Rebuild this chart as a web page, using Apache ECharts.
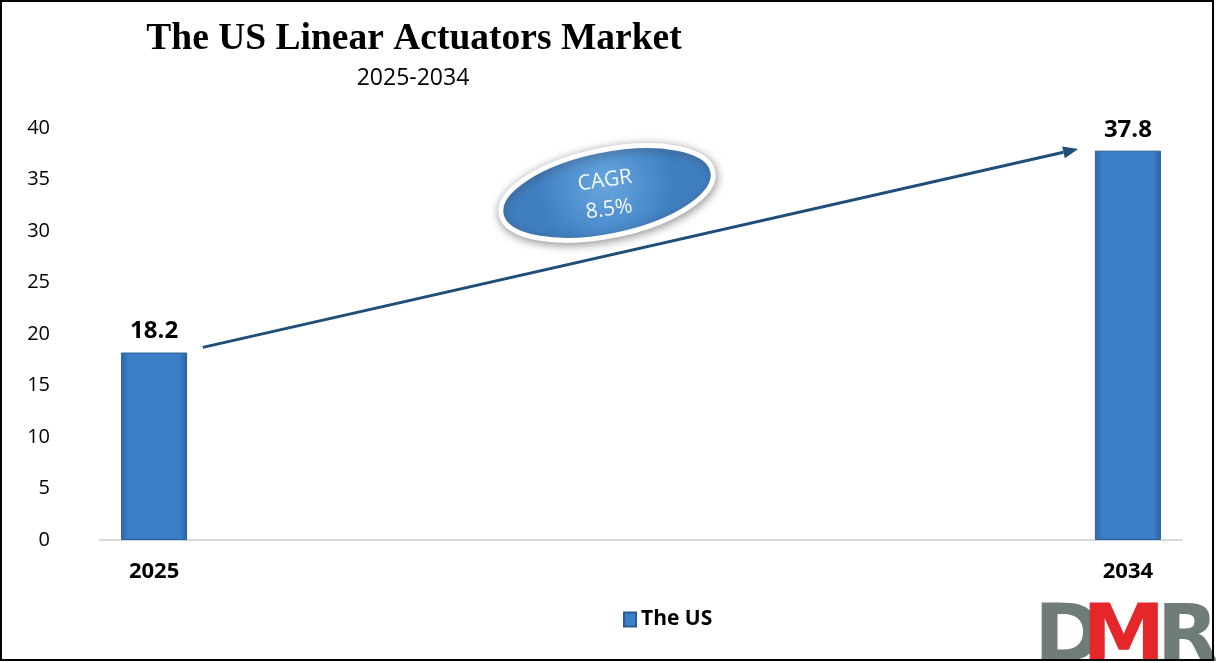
<!DOCTYPE html>
<html>
<head>
<meta charset="utf-8">
<script src="https://cdn.jsdelivr.net/npm/echarts@6/dist/echarts.min.js"></script>
<style>html,body{margin:0;padding:0;background:#fff}#c{width:1216px;height:663px}</style>
</head>
<body>
<div id="c"></div>
<script>
const years = ['2025','2026','2027','2028','2029','2030','2031','2032','2033','2034'];
const usValues = [18.2, null, null, null, null, null, null, null, null, 37.8];
const yTicks = [0, 5, 10, 15, 20, 25, 30, 35, 40];
const shownYears = ['2025', '2034'];
const cagrText = ['CAGR', '8.5%'];
const arrowFrom = { year: '2025', value: 18.7, shift: 0.45 };
const arrowTo = { year: '2034', value: 37.96, shift: -0.46 };

const chart = echarts.init(document.getElementById('c'), null, { renderer: 'canvas' });
const barGrad = new echarts.graphic.LinearGradient(0, 0, 1, 0, [
  { offset: 0, color: '#2d68ad' },
  { offset: 0.12, color: '#3b80c7' },
  { offset: 0.88, color: '#3b80c7' },
  { offset: 1, color: '#2a62a3' }
]);
const option = {
  backgroundColor: '#fff',
  animation: false,
  title: [
    { text: 'The US Linear Actuators Market', left: 409, top: 15, textAlign: 'center',
      textStyle: { fontFamily: 'Liberation Serif', fontWeight: 'bold', fontSize: 37.5, color: '#000' } },
    { text: '2025-2034', left: 408, top: 62, textAlign: 'center',
      textStyle: { fontFamily: 'Open Sans', fontWeight: 'normal', fontSize: 23, color: '#000' } }
  ],
  legend: {
    left: 618, top: 604, itemWidth: 12, itemHeight: 14, itemGap: 6,
    icon: 'rect',
    textStyle: { fontFamily: 'Open Sans', fontWeight: 'bold', fontSize: 21, color: '#000' },
    data: ['The US']
  },
  grid: { left: 100, right: 34, top: 128, bottom: 123, containLabel: false },
  xAxis: {
    type: 'category', data: years, boundaryGap: true,
    axisLine: { lineStyle: { color: '#d9d9d9', width: 2 } },
    axisTick: { show: false },
    axisLabel: {
      interval: 0, margin: 21,
      formatter: v => shownYears.includes(v) ? v : '',
      fontFamily: 'Open Sans', fontWeight: 'bold', fontSize: 22, color: '#000'
    }
  },
  yAxis: {
    type: 'value', min: yTicks[0], max: yTicks[yTicks.length - 1], interval: 5,
    splitLine: { show: false }, axisLine: { show: false }, axisTick: { show: false },
    axisLabel: { margin: 50, fontFamily: 'Open Sans', fontSize: 20, color: '#000' }
  },
  series: [{
    name: 'The US', type: 'bar', data: usValues, barWidth: 66,
    itemStyle: { color: barGrad, borderColor: '#295d96', borderWidth: 1 },
    label: { show: true, position: 'top', distance: 9,
      fontFamily: 'Open Sans', fontWeight: 'bold', fontSize: 24, color: '#000' }
  }]
};
chart.setOption(option);

// arrow computed through the axes
const a0 = chart.convertToPixel({ seriesIndex: 0 }, [arrowFrom.year, arrowFrom.value]);
const a1 = chart.convertToPixel({ seriesIndex: 0 }, [arrowTo.year, arrowTo.value]);
const bandW = (a1[0] - a0[0]) / (years.length - 1);
const x0 = a0[0] + arrowFrom.shift * bandW, y0 = a0[1];
const x1 = a1[0] + arrowTo.shift * bandW, y1 = a1[1];
const ang = Math.atan2(y1 - y0, x1 - x0);
const hl = 15, hw = 6;
const hx = x1 - hl * Math.cos(ang), hy = y1 - hl * Math.sin(ang);

chart.setOption({
  graphic: [
    { type: 'rect', shape: { x: 1, y: 1, width: 1212, height: 659 },
      style: { fill: 'none', stroke: '#000', lineWidth: 2 }, z: 100, silent: true },
    { type: 'line', shape: { x1: x0, y1: y0, x2: hx, y2: hy },
      style: { stroke: '#1f4e79', lineWidth: 3 }, z: 50 },
    { type: 'polygon', shape: { points: [
        [x1, y1],
        [hx + hw * Math.sin(ang), hy - hw * Math.cos(ang)],
        [hx - hw * Math.sin(ang), hy + hw * Math.cos(ang)]
      ] }, style: { fill: '#1f4e79' }, z: 50 },
    { type: 'ellipse', x: 607, y: 193, rotation: 0.2,
      shape: { cx: 0, cy: 0, rx: 108, ry: 43 },
      style: {
        fill: new echarts.graphic.RadialGradient(0.5, 0.4, 0.75, [
          { offset: 0, color: '#69a6dc' }, { offset: 0.6, color: '#4f8fcf' }, { offset: 1, color: '#3f7fc0' }
        ]),
        stroke: '#ffffff', lineWidth: 5,
        shadowBlur: 10, shadowColor: 'rgba(60,60,60,0.5)', shadowOffsetX: 1, shadowOffsetY: 2
      }, z: 60 },
    { type: 'text', x: 607, y: 195, rotation: 0.14, z: 61,
      style: { text: cagrText.join('\n'), fill: '#f2f7fc', fontFamily: 'Open Sans', fontSize: 21,
        lineHeight: 29, align: 'center', verticalAlign: 'middle' } },
    { type: 'group', x: 1034, y: 600, z: 70, children: [
      { type: 'text', x: 0, y: 0, scaleX: 1.05, style: { text: 'D', fill: '#6f7c7a', fontFamily: 'DejaVu Sans', fontWeight: 'bold', fontSize: 80, verticalAlign: 'top' } },
      { type: 'text', x: 48, y: 0, scaleX: 1.05, style: { text: 'M', fill: '#e5262a', fontFamily: 'DejaVu Sans', fontWeight: 'bold', fontSize: 80, verticalAlign: 'top' } },
      { type: 'text', x: 123, y: 0, scaleX: 1.0, style: { text: 'R', fill: '#6f7c7a', fontFamily: 'DejaVu Sans', fontWeight: 'bold', fontSize: 80, verticalAlign: 'top' } }
    ] }
  ]
});
</script>
</body>
</html>
